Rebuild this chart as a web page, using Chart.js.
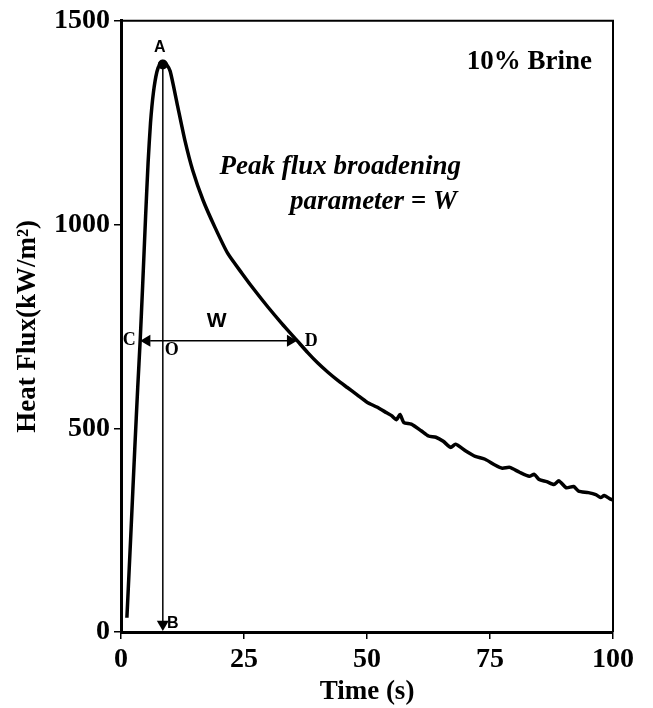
<!DOCTYPE html>
<html>
<head>
<meta charset="utf-8">
<script src="https://cdn.jsdelivr.net/npm/chart.js@4/dist/chart.umd.min.js"></script>
<style>
    html, body { margin: 0; padding: 0; background: #fff; }
    #wrap { width: 653px; height: 708px; }
</style>
</head>
<body>
<div id="wrap"><canvas id="flux-chart"></canvas></div>
<script>
// Heat flux trace for 10% brine
const timeS = [
    1.2, 2.0, 2.8, 3.4, 3.9, 4.4, 5.0, 5.5, 6.0, 6.6, 7.3, 8.0, 8.5, 9.2, 10,
    11.4, 13, 14.6, 16.7, 19.1, 21.7, 24.6, 27.2, 29.9, 32.7, 35.8,
    38, 40, 42, 44, 46, 48, 50, 52, 54, 55, 56, 56.7, 57.5, 59, 61, 62.5,
    64, 65.5, 67, 68, 70, 72, 74, 76, 77.5, 79, 81, 83, 84, 85, 86.5, 88,
    89, 90.5, 92, 93, 95, 96.5, 97.5, 98.2, 99.5, 100
]
const heatFlux = [
    35, 240, 450, 600, 716, 850, 1020, 1150, 1250, 1325, 1375, 1396, 1400, 1394, 1376,
    1297, 1206, 1132, 1059, 993, 929, 880, 838, 797, 757, 715,
    685, 660, 638, 618, 600, 582, 564, 552, 538, 531, 521, 534, 514, 510, 494, 481,
    478, 468, 453, 461, 445, 431, 424, 410, 402, 404, 392, 382, 387, 374, 369, 362,
    371, 354, 357, 346, 342, 337, 330, 335, 326, 324
]
const xTicks = [0, 25, 50, 75, 100]
const yTicks = [0, 500, 1000, 1500]

// markers: peak A / B below it, half-peak width C-D
const peakTime = 8.5
const peakFlux = 1400
const halfFlux = 715
const cTime = 3.9
const dTime = 35.8

const serif = '"Liberation Serif", "Times New Roman", serif'
const sans = '"Liberation Sans", Arial, sans-serif'

function arrowHead(ctx, x, y, dir, size) {
    // dir: 'left' | 'right' | 'down'
    ctx.beginPath()
    if (dir === 'left') {
        ctx.moveTo(x, y); ctx.lineTo(x + size * 1.7, y - size); ctx.lineTo(x + size * 1.7, y + size)
    } else if (dir === 'right') {
        ctx.moveTo(x, y); ctx.lineTo(x - size * 1.7, y - size); ctx.lineTo(x - size * 1.7, y + size)
    } else {
        ctx.moveTo(x, y); ctx.lineTo(x - size, y - size * 1.7); ctx.lineTo(x + size, y - size * 1.7)
    }
    ctx.closePath()
    ctx.fill()
}

const annotations = {
    id: 'annotations',
    afterDatasetsDraw(chart) {
        const ctx = chart.ctx
        const xs = chart.scales.x
        const ys = chart.scales.y
        const area = chart.chartArea
        ctx.save()
        ctx.strokeStyle = '#000'
        ctx.fillStyle = '#000'

        // top and right frame
        ctx.lineWidth = 2
        ctx.beginPath()
        ctx.moveTo(area.left, area.top)
        ctx.lineTo(area.right, area.top)
        ctx.lineTo(area.right, area.bottom)
        ctx.stroke()

        // A -> B vertical line
        const px = xs.getPixelForValue(peakTime)
        const pTop = ys.getPixelForValue(peakFlux)
        const pBot = ys.getPixelForValue(0)
        ctx.lineWidth = 1.5
        ctx.beginPath()
        ctx.moveTo(px, pTop)
        ctx.lineTo(px, pBot - 10)
        ctx.stroke()
        arrowHead(ctx, px, pBot - 1, 'down', 6)

        // peak cap
        ctx.beginPath()
        ctx.arc(px, pTop + 3, 5, 0, Math.PI * 2)
        ctx.fill()

        // C <-> D horizontal arrow
        const cx = xs.getPixelForValue(cTime)
        const dx = xs.getPixelForValue(dTime)
        const hy = ys.getPixelForValue(halfFlux)
        ctx.lineWidth = 1.5
        ctx.beginPath()
        ctx.moveTo(cx + 10, hy)
        ctx.lineTo(dx - 10, hy)
        ctx.stroke()
        arrowHead(ctx, cx, hy, 'left', 6)
        arrowHead(ctx, dx, hy, 'right', 6)

        // letters
        ctx.textBaseline = 'middle'
        ctx.textAlign = 'center'
        ctx.font = 'bold 16px ' + sans
        ctx.fillText('A', px - 3, pTop - 14)
        ctx.fillText('B', px + 10, pBot - 8)
        ctx.font = 'bold 21px ' + sans
        ctx.fillText('W', (cx + dx) / 2 - 2, hy - 19)
        ctx.font = 'bold 18px ' + serif
        ctx.fillText('C', cx - 11, hy)
        ctx.fillText('O', px + 9, hy + 10)
        ctx.fillText('D', dx + 14, hy + 1)

        // labels
        ctx.font = 'bold 27px ' + serif
        ctx.textAlign = 'right'
        ctx.fillText('10% Brine', 592, 62)
        ctx.font = 'italic bold 27px ' + serif
        ctx.fillText('Peak flux broadening', 461, 167)
        ctx.fillText('parameter = W', 457, 202)
        ctx.restore()
    }
}

new Chart(document.getElementById('flux-chart'), {
    type: 'line',
    data: {
        datasets: [{
            data: timeS.map((t, i) => ({ x: t, y: heatFlux[i] })),
            borderColor: '#000',
            borderWidth: 3.5,
            pointRadius: 0,
            fill: false,
            tension: 0.2
        }]
    },
    options: {
        responsive: true,
        maintainAspectRatio: false,
        animation: false,
        layout: { padding: { top: 20, right: 40, left: 0, bottom: 0 } },
        plugins: {
            legend: { display: false },
            tooltip: { enabled: false }
        },
        scales: {
            x: {
                type: 'linear',
                min: 0,
                max: 100,
                afterFit: (scale) => { scale.height = 76 },
                afterBuildTicks: (scale) => { scale.ticks = xTicks.map(v => ({ value: v })) },
                border: { display: true, color: '#000', width: 3 },
                grid: { display: true, drawOnChartArea: false, drawTicks: true, tickLength: 7, color: '#000', lineWidth: 1.5 },
                ticks: {
                    color: '#000',
                    padding: 4,
                    font: { family: serif, size: 28, weight: 'bold' },
                    callback: (v) => String(v)
                },
                title: {
                    display: true,
                    text: 'Time (s)',
                    color: '#000',
                    padding: { top: 0, bottom: 0 },
                    font: { family: serif, size: 27, weight: 'bold' }
                }
            },
            y: {
                min: 0,
                max: 1500,
                afterFit: (scale) => { scale.width = 121 },
                afterBuildTicks: (scale) => { scale.ticks = yTicks.map(v => ({ value: v })) },
                border: { display: true, color: '#000', width: 3 },
                grid: { display: true, drawOnChartArea: false, drawTicks: true, tickLength: 7, color: '#000', lineWidth: 1.5 },
                ticks: {
                    color: '#000',
                    padding: 4,
                    font: { family: serif, size: 28, weight: 'bold' },
                    callback: (v) => String(v)
                },
                title: {
                    display: true,
                    text: 'Heat Flux(kW/m²)',
                    color: '#000',
                    padding: { top: 12, bottom: 0 },
                    font: { family: serif, size: 27, weight: 'bold' }
                }
            }
        }
    },
    plugins: [annotations]
});
</script>
</body>
</html>
